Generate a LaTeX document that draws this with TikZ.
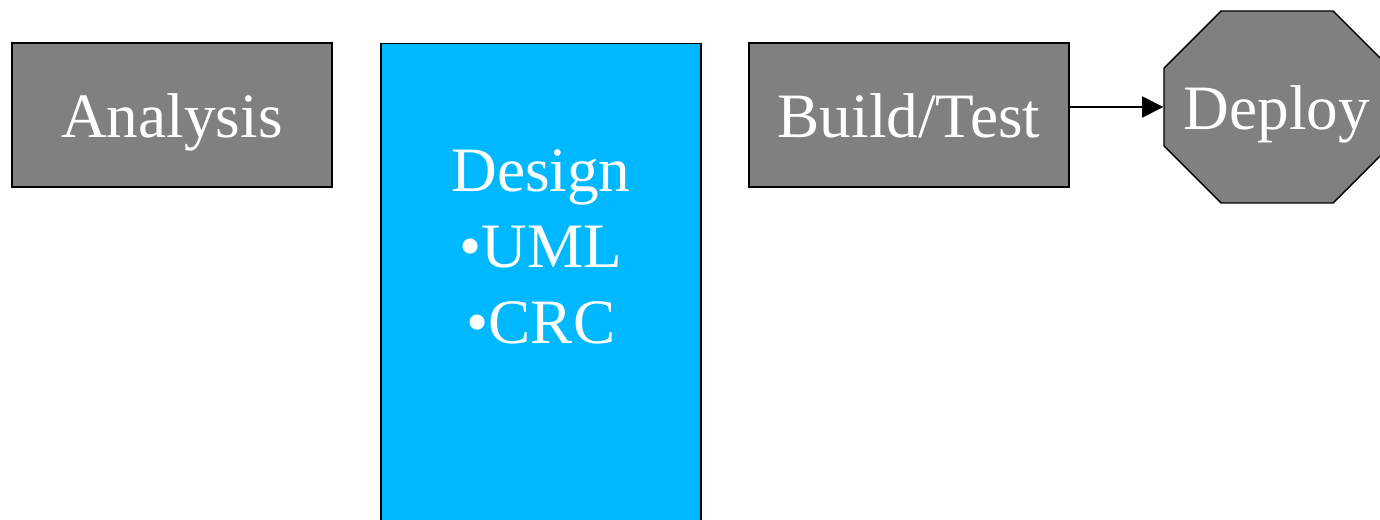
\documentclass[tikz,border=0pt]{standalone}
\usepackage{fontspec}
\setmainfont{Liberation Serif}
\definecolor{BoxGray}{RGB}{128, 128, 128}
\definecolor{SkyBlue}{RGB}{0, 184, 255}
\usetikzlibrary{arrows.meta, positioning, calc}

\begin{document}
\begin{tikzpicture}[x=0.02cm, y=-0.02cm, >={Triangle[length=12pt, width=12pt]},
    phase/.style={draw=black, line width=0.8pt, fill=BoxGray, text=white,
        minimum width=6.4cm, minimum height=2.88cm, inner sep=0pt,
        font=\fontsize{36}{43.2}\selectfont, text height=28pt, text depth=2pt}]
    % Page: 1380 x 520 units, y runs downwards
    \useasboundingbox (0,0) rectangle (1380,520);
    % Phase boxes
    \node[phase] (analysis) at (172,115) {Analysis};
    \node[phase, fill=SkyBlue, minimum height=10.4cm, anchor=north] (design) at (541,43) {};
    \node[text=white, inner sep=0pt, align=center, font=\fontsize{36}{43.2}\selectfont,
        below=2.12cm of design.north] (designtext) {Design\\•UML\\•CRC};
    \node[phase] (build) at (909,115) {Build/Test};
    % Octagon for the last phase
    \coordinate (deployc) at (1277,107);
    \draw[line width=0.8pt, fill=BoxGray]
        ($(deployc)+(-113,-39)$) -- ($(deployc)+(-56,-96)$) -- ($(deployc)+(56,-96)$)
        -- ($(deployc)+(113,-39)$) -- ($(deployc)+(113,39)$) -- ($(deployc)+(56,96)$)
        -- ($(deployc)+(-56,96)$) -- ($(deployc)+(-113,39)$) -- cycle;
    \node[phase, draw=none, fill=none, minimum width=4.52cm, minimum height=3.84cm] (deploy) at (deployc) {Deploy};
    \draw[->, line width=0.8pt] (build.east |- deploy.west) -- (deploy.west);
\end{tikzpicture}
\end{document}
